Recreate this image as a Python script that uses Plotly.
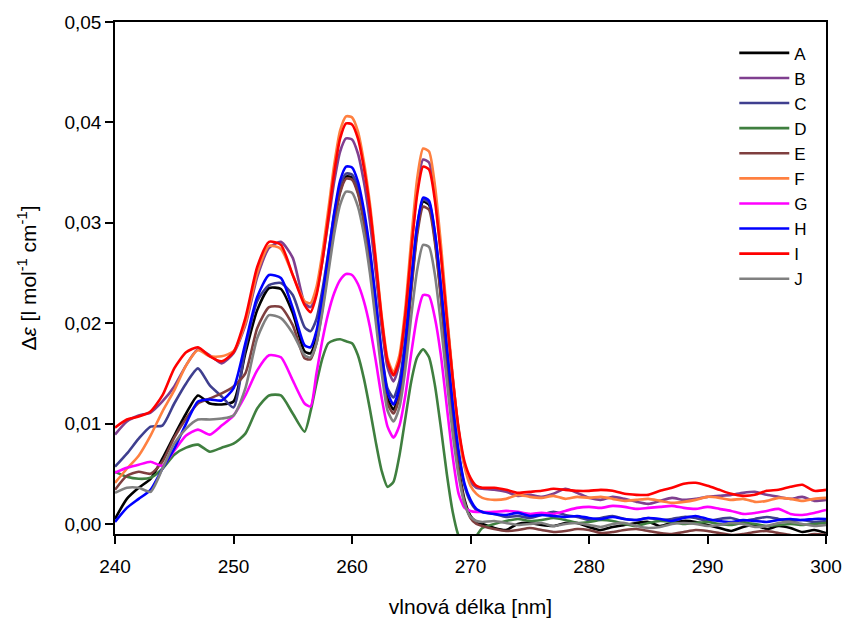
import plotly.graph_objects as go

# wavelength grid (nm)
wl_a = [240, 241, 242, 243, 244, 245, 246, 247, 248, 249, 250, 251, 252, 253, 254, 255]
wl_b = [256, 256.5, 257, 257.5, 258, 258.5, 259, 259.5, 260, 260.5, 261, 261.5, 262, 262.5,
        263, 263.5, 264, 264.5, 265, 265.5, 266, 266.5, 267, 267.5, 268, 268.5, 269, 269.5,
        270, 270.5, 271]
wl_c = [272, 273, 274, 275, 276, 277, 278, 279, 280, 281, 282, 283, 284, 285, 286, 287, 288,
        289, 290, 291, 292, 293, 294, 295, 296, 297, 298, 299, 300]
wavelength = wl_a + wl_b + wl_c

series_names = ["A", "B", "C", "D", "E", "F", "G", "H", "I", "J"]
colors = ["#000000", "#7f3f8f", "#3f3f8f", "#3f7f3f", "#7f3f3f",
          "#ff8040", "#ff00ff", "#0000ff", "#ff0000", "#808080"]

A = [0.0005, 0.0025, 0.0036, 0.0045, 0.0065, 0.0088, 0.0110, 0.0128, 0.0120, 0.0119, 0.0122, 0.0170, 0.0213, 0.0235, 0.0234, 0.0210,
     0.0172, 0.0170, 0.0186, 0.0219, 0.0260, 0.0301, 0.0332, 0.0346, 0.0345, 0.0331, 0.0303, 0.0264, 0.0214, 0.0162,
     0.0125, 0.0114, 0.0130, 0.0174, 0.0236, 0.0292, 0.0321, 0.0318, 0.0284, 0.0228, 0.0164, 0.0104, 0.0056, 0.0024,
     0.0008, 0.0002, 0.0000,
     -0.0004, -0.0006, 0.0000, 0.0001, -0.0001, -0.0002, 0.0001, 0.0001, -0.0003, -0.0006, -0.0003, -0.0001, 0.0001, 0.0002,
     -0.0002, 0.0001, 0.0003, 0.0002, -0.0001, -0.0004, -0.0007, -0.0003, -0.0001, -0.0005, -0.0002, -0.0004, -0.0008, -0.0006, -0.0009]
B = [0.0089, 0.0102, 0.0108, 0.0111, 0.0122, 0.0137, 0.0158, 0.0174, 0.0168, 0.0160, 0.0170, 0.0198, 0.0246, 0.0275, 0.0281, 0.0265,
     0.0220, 0.0216, 0.0230, 0.0262, 0.0301, 0.0341, 0.0371, 0.0384, 0.0383, 0.0369, 0.0341, 0.0302, 0.0251, 0.0196,
     0.0156, 0.0142, 0.0160, 0.0207, 0.0275, 0.0334, 0.0363, 0.0360, 0.0327, 0.0272, 0.0206, 0.0145, 0.0093, 0.0058,
     0.0042, 0.0036, 0.0035,
     0.0034, 0.0032, 0.0028, 0.0029, 0.0027, 0.0030, 0.0035, 0.0031, 0.0026, 0.0024, 0.0027, 0.0025, 0.0022, 0.0020,
     0.0023, 0.0026, 0.0024, 0.0025, 0.0027, 0.0028, 0.0029, 0.0031, 0.0032, 0.0029, 0.0027, 0.0025, 0.0027, 0.0023, 0.0024]
C = [0.0057, 0.0070, 0.0085, 0.0097, 0.0098, 0.0120, 0.0140, 0.0155, 0.0138, 0.0127, 0.0116, 0.0175, 0.0222, 0.0238, 0.0240, 0.0228,
     0.0196, 0.0192, 0.0204, 0.0233, 0.0270, 0.0308, 0.0337, 0.0349, 0.0348, 0.0335, 0.0308, 0.0271, 0.0222, 0.0171,
     0.0135, 0.0126, 0.0142, 0.0184, 0.0244, 0.0297, 0.0323, 0.0320, 0.0289, 0.0237, 0.0175, 0.0117, 0.0070, 0.0038,
     0.0022, 0.0014, 0.0012,
     0.0010, 0.0007, 0.0008, 0.0006, 0.0009, 0.0012, 0.0009, 0.0007, 0.0004, 0.0006, 0.0008, 0.0005, 0.0004, 0.0006,
     0.0004, 0.0005, 0.0007, 0.0006, 0.0003, 0.0005, 0.0006, 0.0003, 0.0005, 0.0007, 0.0005, 0.0003, 0.0004, 0.0002, 0.0003]
D = [0.0052, 0.0047, 0.0045, 0.0046, 0.0055, 0.0069, 0.0076, 0.0079, 0.0072, 0.0076, 0.0080, 0.0090, 0.0115, 0.0128, 0.0128, 0.0110,
     0.0092, 0.0112, 0.0140, 0.0165, 0.0180, 0.0183, 0.0184, 0.0182, 0.0180, 0.0168, 0.0145, 0.0115, 0.0082, 0.0053,
     0.0037, 0.0042, 0.0068, 0.0105, 0.0142, 0.0166, 0.0174, 0.0166, 0.0138, 0.0096, 0.0050, 0.0012, -0.0012, -0.0022,
     -0.0022, -0.0012, -0.0004,
     0.0000, 0.0003, 0.0005, 0.0003, 0.0004, 0.0006, 0.0004, 0.0001, 0.0002, 0.0004, 0.0003, 0.0000, -0.0002, 0.0001,
     0.0003, 0.0002, 0.0000, 0.0001, 0.0002, 0.0000, -0.0001, 0.0001, 0.0000, -0.0002, -0.0001, 0.0000, -0.0001, 0.0000, 0.0001]
E = [0.0034, 0.0048, 0.0052, 0.0050, 0.0062, 0.0086, 0.0105, 0.0120, 0.0125, 0.0130, 0.0137, 0.0150, 0.0195, 0.0216, 0.0216, 0.0198,
     0.0165, 0.0164, 0.0180, 0.0214, 0.0256, 0.0298, 0.0330, 0.0344, 0.0343, 0.0329, 0.0300, 0.0260, 0.0209, 0.0157,
     0.0120, 0.0110, 0.0126, 0.0170, 0.0232, 0.0288, 0.0316, 0.0313, 0.0280, 0.0225, 0.0161, 0.0101, 0.0053, 0.0022,
     0.0006, 0.0000, -0.0002,
     -0.0005, -0.0007, -0.0006, -0.0004, -0.0006, -0.0008, -0.0007, -0.0005, -0.0006, -0.0009, -0.0008, -0.0006, -0.0005, -0.0007,
     -0.0009, -0.0010, -0.0008, -0.0006, -0.0007, -0.0009, -0.0011, -0.0010, -0.0008, -0.0007, -0.0009, -0.0011, -0.0012, -0.0010, -0.0011]
F = [0.0041, 0.0055, 0.0068, 0.0088, 0.0112, 0.0133, 0.0158, 0.0173, 0.0167, 0.0167, 0.0172, 0.0200, 0.0250, 0.0277, 0.0274, 0.0248,
     0.0222, 0.0220, 0.0236, 0.0270, 0.0313, 0.0358, 0.0392, 0.0406, 0.0405, 0.0391, 0.0361, 0.0320, 0.0266, 0.0208,
     0.0165, 0.0151, 0.0168, 0.0215, 0.0283, 0.0344, 0.0374, 0.0371, 0.0337, 0.0279, 0.0211, 0.0147, 0.0093, 0.0057,
     0.0038, 0.0030, 0.0026,
     0.0024, 0.0025, 0.0029, 0.0027, 0.0026, 0.0028, 0.0025, 0.0027, 0.0026, 0.0027, 0.0025, 0.0023, 0.0024, 0.0025,
     0.0023, 0.0021, 0.0022, 0.0024, 0.0027, 0.0026, 0.0024, 0.0025, 0.0022, 0.0023, 0.0026, 0.0025, 0.0023, 0.0025, 0.0026]
G = [0.0051, 0.0056, 0.0059, 0.0062, 0.0058, 0.0073, 0.0088, 0.0094, 0.0089, 0.0098, 0.0108, 0.0128, 0.0153, 0.0168, 0.0166, 0.0143,
     0.0120, 0.0117, 0.0150, 0.0183, 0.0210, 0.0230, 0.0243, 0.0249, 0.0248, 0.0239, 0.0222, 0.0197, 0.0163, 0.0126,
     0.0097, 0.0086, 0.0098, 0.0128, 0.0170, 0.0207, 0.0228, 0.0227, 0.0205, 0.0168, 0.0117, 0.0067, 0.0030, 0.0016,
     0.0013, 0.0012, 0.0012,
     0.0012, 0.0013, 0.0012, 0.0010, 0.0011, 0.0010, 0.0013, 0.0016, 0.0017, 0.0016, 0.0018, 0.0017, 0.0015, 0.0016,
     0.0017, 0.0018, 0.0016, 0.0015, 0.0017, 0.0015, 0.0013, 0.0010, 0.0011, 0.0013, 0.0015, 0.0010, 0.0009, 0.0011, 0.0014]
H = [0.0002, 0.0016, 0.0025, 0.0034, 0.0055, 0.0075, 0.0100, 0.0122, 0.0124, 0.0123, 0.0135, 0.0180, 0.0226, 0.0248, 0.0245, 0.0215,
     0.0178, 0.0176, 0.0192, 0.0226, 0.0268, 0.0310, 0.0342, 0.0356, 0.0355, 0.0341, 0.0313, 0.0274, 0.0223, 0.0170,
     0.0131, 0.0119, 0.0135, 0.0179, 0.0241, 0.0297, 0.0325, 0.0322, 0.0290, 0.0237, 0.0176, 0.0119, 0.0072, 0.0040,
     0.0024, 0.0015, 0.0012,
     0.0010, 0.0009, 0.0011, 0.0008, 0.0009, 0.0008, 0.0007, 0.0008, 0.0006, 0.0005, 0.0007, 0.0005, 0.0004, 0.0006,
     0.0005, 0.0003, 0.0006, 0.0008, 0.0005, 0.0003, 0.0002, 0.0004, 0.0003, 0.0002, 0.0004, 0.0005, 0.0004, 0.0005, 0.0005]
I = [0.0096, 0.0104, 0.0107, 0.0112, 0.0128, 0.0155, 0.0171, 0.0176, 0.0167, 0.0162, 0.0171, 0.0205, 0.0256, 0.0281, 0.0278, 0.0248,
     0.0218, 0.0211, 0.0228, 0.0262, 0.0305, 0.0350, 0.0384, 0.0399, 0.0398, 0.0384, 0.0355, 0.0315, 0.0262, 0.0205,
     0.0162, 0.0148, 0.0163, 0.0208, 0.0272, 0.0328, 0.0356, 0.0353, 0.0322, 0.0268, 0.0205, 0.0145, 0.0095, 0.0062,
     0.0046, 0.0038, 0.0036,
     0.0036, 0.0034, 0.0031, 0.0032, 0.0033, 0.0035, 0.0034, 0.0033, 0.0033, 0.0034, 0.0033, 0.0030, 0.0029, 0.0029,
     0.0033, 0.0036, 0.0040, 0.0041, 0.0038, 0.0034, 0.0030, 0.0028, 0.0029, 0.0033, 0.0034, 0.0037, 0.0039, 0.0033, 0.0034]
J = [0.0031, 0.0036, 0.0036, 0.0032, 0.0055, 0.0080, 0.0095, 0.0104, 0.0104, 0.0105, 0.0108, 0.0135, 0.0185, 0.0208, 0.0205, 0.0190,
     0.0168, 0.0166, 0.0180, 0.0211, 0.0250, 0.0289, 0.0318, 0.0331, 0.0330, 0.0316, 0.0289, 0.0251, 0.0202, 0.0151,
     0.0113, 0.0102, 0.0116, 0.0154, 0.0207, 0.0253, 0.0278, 0.0276, 0.0248, 0.0199, 0.0143, 0.0090, 0.0048, 0.0020,
     0.0007, 0.0003, 0.0002,
     0.0003, 0.0001, -0.0001, 0.0000, 0.0001, -0.0002, 0.0000, 0.0001, -0.0001, -0.0003, 0.0000, 0.0001, -0.0002, -0.0004,
     -0.0003, 0.0000, 0.0001, 0.0000, -0.0002, -0.0001, 0.0001, 0.0000, -0.0003, -0.0002, 0.0001, 0.0002, 0.0000, -0.0002, -0.0001]

series_values = [A, B, C, D, E, F, G, H, I, J]

x_ticks = [240, 250, 260, 270, 280, 290, 300]
y_ticks = [0.00, 0.01, 0.02, 0.03, 0.04, 0.05]

FONT = "Liberation Sans, Arial, sans-serif"

fig = go.Figure()
for name, vals, col in zip(series_names, series_values, colors):
    fig.add_trace(go.Scatter(
        x=wavelength, y=vals, name=name, mode="lines",
        line=dict(color=col, width=2.6, shape="spline", smoothing=0.6),
    ))

fig.update_layout(
    width=846, height=621, autosize=False,
    margin=dict(l=115, r=20, t=22, b=87),
    paper_bgcolor="white", plot_bgcolor="white",
    separators=", ",
    font=dict(family=FONT, size=19, color="#000000"),
    showlegend=True,
    legend=dict(
        x=0.871, y=0.974, xanchor="left", yanchor="top",
        bgcolor="rgba(0,0,0,0)", borderwidth=0,
        font=dict(family=FONT, size=17, color="#000000"),
        itemwidth=50, tracegroupgap=0,
    ),
)
fig.update_xaxes(
    range=[240, 300], tickvals=x_ticks, ticktext=[str(t) for t in x_ticks],
    showgrid=False, zeroline=False, automargin=False,
    showline=True, linecolor="#000000", linewidth=1.5, mirror=True,
    ticks="outside", ticklen=8, tickwidth=1.5, tickcolor="#000000",
    ticklabelstandoff=6,
    tickfont=dict(family=FONT, size=19, color="#000000"),
    title=dict(text="vlnová délka [nm]", font=dict(family=FONT, size=21, color="#000000"), standoff=24),
)
fig.update_yaxes(
    range=[-0.001, 0.05], tickvals=y_ticks, tickformat=".2f",
    showgrid=False, zeroline=False, automargin=False,
    showline=True, linecolor="#000000", linewidth=1.5, mirror=True,
    ticks="outside", ticklen=8, tickwidth=1.5, tickcolor="#000000",
    tickfont=dict(family=FONT, size=19, color="#000000"),
    title=dict(text="Δ<i>ε</i> [l mol<sup>-1</sup> cm<sup>-1</sup>]",
               font=dict(family=FONT, size=21, color="#000000"), standoff=22),
)

fig.write_html("out.html")
